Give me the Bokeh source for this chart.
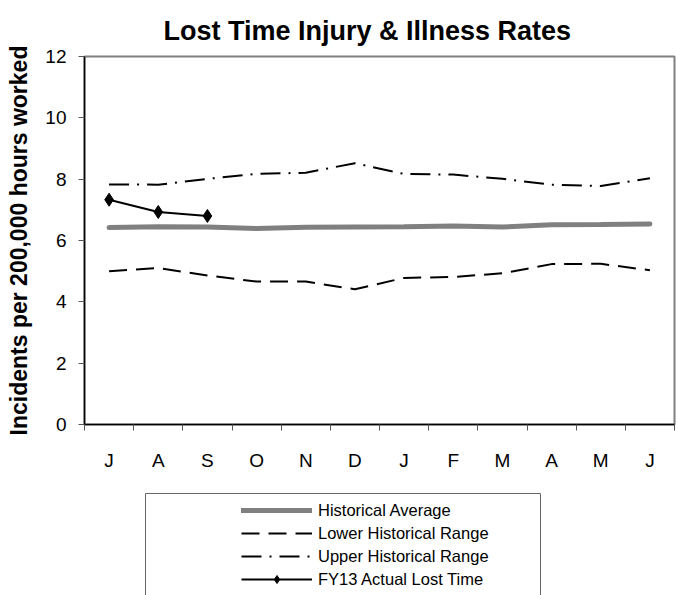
from bokeh.plotting import figure
from bokeh.models import FixedTicker, Legend, LegendItem, Range1d, LinearAxis
from bokeh.embed import file_html
from bokeh.resources import INLINE

# ---- data ----
months = ["J", "A", "S", "O", "N", "D", "J", "F", "M", "A", "M", "J"]
hist_avg = [6.42, 6.45, 6.44, 6.39, 6.43, 6.44, 6.45, 6.47, 6.44, 6.51, 6.52, 6.54]
lower_range = [5.00, 5.10, 4.86, 4.66, 4.66, 4.41, 4.78, 4.81, 4.93, 5.23, 5.24, 5.03]
upper_range = [7.83, 7.82, 8.01, 8.17, 8.21, 8.52, 8.17, 8.15, 8.01, 7.82, 7.78, 8.03]
fy13_actual = [7.33, 6.93, 6.80]
y_ticks = [0, 2, 4, 6, 8, 10, 12]

FONT = "Liberation Sans"
idx = list(range(len(months)))
fy_idx = idx[:len(fy13_actual)]

avg_style = dict(line_color="#808080", line_width=5, line_cap="round")
low_style = dict(line_color="black", line_width=2, line_dash="18 9")
up_style = dict(line_color="black", line_width=2, line_dash="20 8 2 8")
fy_style = dict(line_color="black", line_width=2)

p = figure(width=677, height=480, output_backend="svg", toolbar_location=None,
           x_range=Range1d(-0.5, len(months) - 0.5), y_range=Range1d(0, 12),
           min_border_left=84, min_border_right=3, min_border_top=56, min_border_bottom=56)

p.title.text = "Lost Time Injury & Illness Rates"
p.title.text_font = FONT
p.title.text_font_size = "27px"
p.title.text_font_style = "bold"
p.title.text_color = "black"
p.title.align = "left"
p.title.offset = 79
p.title.standoff = 22

p.grid.visible = False
p.outline_line_color = "#808080"
p.outline_line_width = 2
p.background_fill_color = "white"
p.border_fill_color = "white"

# y axis
p.yaxis.ticker = FixedTicker(ticks=y_ticks)
p.yaxis.axis_label = "Incidents per 200,000 hours worked"
p.yaxis.axis_label_text_font = FONT
p.yaxis.axis_label_text_font_size = "23px"
p.yaxis.axis_label_text_font_style = "bold"
p.yaxis.axis_label_text_color = "black"
p.yaxis.axis_label_standoff = 10
p.yaxis.major_label_text_font = FONT
p.yaxis.major_label_text_font_size = "19px"
p.yaxis.major_label_text_color = "black"
p.yaxis.major_label_standoff = 12
p.yaxis.major_tick_out = 6
p.yaxis.major_tick_in = 0
p.yaxis.major_tick_line_color = "#555555"
p.yaxis.minor_tick_line_color = None
p.yaxis.axis_line_color = "black"
p.yaxis.axis_line_width = 1.5

# x axis: labels at category centres, tick marks at category boundaries
p.xaxis.ticker = FixedTicker(ticks=idx, minor_ticks=[i - 0.5 for i in range(len(months) + 1)])
p.xaxis.major_label_overrides = {i: m for i, m in enumerate(months)}
p.xaxis.major_label_text_font = FONT
p.xaxis.major_label_text_font_size = "19px"
p.xaxis.major_label_text_color = "black"
p.xaxis.major_tick_line_color = None
p.xaxis.major_tick_out = 0
p.xaxis.major_tick_in = 0
p.xaxis.major_label_standoff = 19
p.xaxis.minor_tick_out = 6
p.xaxis.minor_tick_in = 0
p.xaxis.minor_tick_line_color = "#555555"
p.xaxis.axis_line_color = "black"
p.xaxis.axis_line_width = 1.5

# series
p.line(idx, hist_avg, **avg_style)
p.line(idx, lower_range, **low_style)
p.line(idx, upper_range, **up_style)
p.line(fy_idx, fy13_actual, **fy_style)
p.scatter(fy_idx, fy13_actual, marker="diamond", size=13, fill_color="black", line_color="black")

# ---- legend panel: left/top/right axis lines form the (bottom-cropped) legend box ----
q = figure(width=677, height=115, output_backend="svg", toolbar_location=None,
           x_axis_location="above", y_axis_location="left",
           x_range=Range1d(-0.5, len(months) - 0.5), y_range=Range1d(100, 101),
           min_border_left=145, min_border_right=137, min_border_top=13, min_border_bottom=0)
q.add_layout(LinearAxis(), "right")
q.grid.visible = False
q.outline_line_color = None
q.border_fill_color = "white"
for ax in q.axis:
    ax.ticker = FixedTicker(ticks=[])
    ax.major_tick_line_color = None
    ax.minor_tick_line_color = None
    ax.major_label_text_font_size = "0px"
    ax.axis_line_color = "#666666"
    ax.axis_line_width = 1

# same series drawn out of view here; they only provide the legend swatches
la = q.line(idx, hist_avg, **avg_style)
ll = q.line(idx, lower_range, **low_style)
lu = q.line(idx, upper_range, **up_style)
lf = q.line(fy_idx, fy13_actual, **fy_style)
lm = q.scatter(fy_idx, fy13_actual, marker="diamond", size=11, fill_color="black", line_color="black")

leg = Legend(items=[
    LegendItem(label="Historical Average", renderers=[la]),
    LegendItem(label="Lower Historical Range", renderers=[ll]),
    LegendItem(label="Upper Historical Range", renderers=[lu]),
    LegendItem(label="FY13 Actual Lost Time", renderers=[lf, lm]),
], location=(96, 6), margin=0, padding=0, spacing=3, glyph_width=71, glyph_height=20,
    label_standoff=6, label_text_font=FONT, label_text_font_size="16.5px",
    label_text_color="black", border_line_color=None, background_fill_alpha=0)
q.add_layout(leg, "center")

open("out.html", "w").write(file_html([p, q], INLINE))
